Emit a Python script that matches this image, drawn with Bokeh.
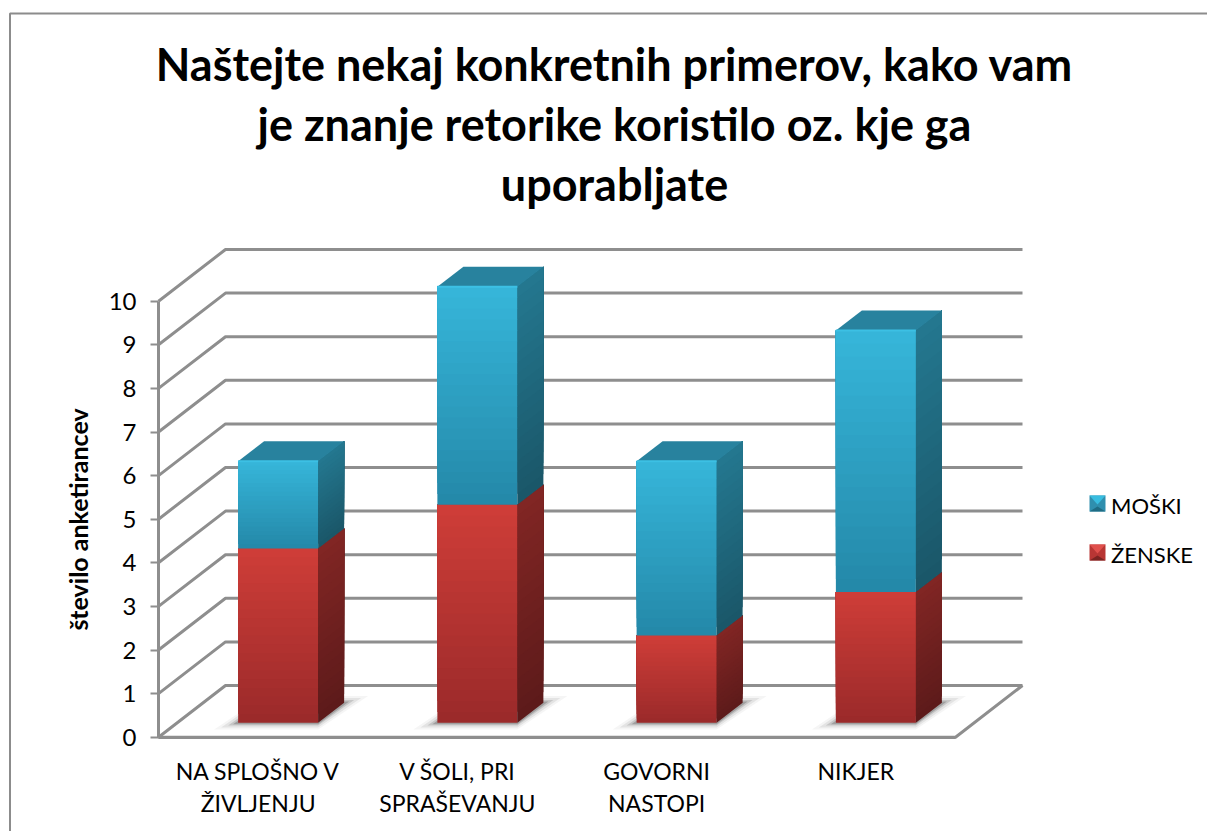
from bokeh.plotting import figure
from bokeh.embed import file_html
from bokeh.resources import INLINE
from bokeh.core.properties import value
from bokeh.models import LinearAxis, FixedTicker, Legend, LegendItem

categories = ["NA SPLOŠNO V\nŽIVLJENJU", "V ŠOLI, PRI\nSPRAŠEVANJU", "GOVORNI\nNASTOPI", "NIKJER"]
zenske = [4, 5, 2, 3]
moski = [2, 5, 4, 6]
y_ticks = list(range(0, 11))
title_text = "Naštejte nekaj konkretnih primerov, kako vam\nje znanje retorike koristilo oz. kje ga\nuporabljate"
y_label = "število anketirancev"

FONT = "Lato"
W, H = 1207, 831
# page-pixel scale of the plot area
PX, PY = 199.25, 43.6
X0, Y0 = 158.0, 736.7


def sx(px):
    return (px - X0) / PX


def sy(py):
    return (Y0 - py) / PY


p = figure(width=W, height=H, output_backend="svg", toolbar_location=None,
           x_range=(sx(0), sx(W)), y_range=(sy(H), sy(0)),
           x_axis_type=None, y_axis_type=None, min_border=0,
           background_fill_color="white", border_fill_color="white", outline_line_color=None)
p.grid.visible = False

GRID = "#8e8e8e"
# chart area frame
p.line([sx(9.5), sx(9.5), sx(W)], [sy(H), sy(13), sy(13)], line_color="#8c8c8c", line_width=2)

# walls and floor
dx, dy = 67 / PX, 51.7 / PY
n = len(categories)
xs, ys = [], []
for v in y_ticks:
    xs.append([0, dx, n + dx])
    ys.append([v, v + dy, v + dy])
p.multi_line(xs, ys, line_color=GRID, line_width=3)
p.line([n + dx, n, 0], [dy, 0, 0], line_color=GRID, line_width=3)

# bars
bar_w = 80 / PX
bar_off = 20 / PX
base = (Y0 - 722.3) / PY
side_x, side_y = 26 / PX, 20 / PY
SL = 20


def lerp(a, b, t):
    return "#%02x%02x%02x" % tuple(round(a[i] + (b[i] - a[i]) * t) for i in range(3))


RED_F = ((0x9a, 0x2a, 0x2a), (0xcf, 0x3d, 0x38))
RED_S = ((0x5c, 0x1a, 0x1a), (0x82, 0x26, 0x24))
BLU_F = ((0x24, 0x88, 0xa8), (0x36, 0xb6, 0xda))
BLU_S = ((0x1a, 0x56, 0x68), (0x24, 0x78, 0x90))
TOP = "#28829e"


def segment(x0, x1, v0, v1, front, side):
    # each band reaches the segment top, so later bands cover earlier ones without seams
    for k in range(SL):
        a = v0 + (v1 - v0) * k / SL
        t = (k + .5) / SL
        p.quad(left=[x0], right=[x1], bottom=[base + a], top=[base + v1],
               fill_color=lerp(front[0], front[1], t), line_color=None)
        p.patch([x1, x1 + side_x, x1 + side_x, x1],
                [base + a, base + a + side_y, base + v1 + side_y, base + v1],
                fill_color=lerp(side[0], side[1], t), line_color=None)


for i in range(n):
    c = i + .5 + bar_off
    x0, x1 = c - bar_w / 2, c + bar_w / 2
    # soft floor shadow
    for e, al in ((24, .05), (17, .09), (10, .16), (5, .26)):
        ex, ey = e / PX, e * .28 / PY
        p.patch([x0 - ex, x1, x1 + side_x + ex, x0 + side_x],
                [base - ey, base - ey, base + side_y + ey, base + side_y + ey],
                fill_color="#333333", fill_alpha=al, line_color=None)
    segment(x0, x1, 0, zenske[i], RED_F, RED_S)
    segment(x0, x1, zenske[i], zenske[i] + moski[i], BLU_F, BLU_S)
    t = zenske[i] + moski[i]
    p.patch([x0, x1, x1 + side_x, x0 + side_x],
            [base + t, base + t, base + t + side_y, base + t + side_y],
            fill_color=TOP, line_color=None)
    p.line([x0, x1], [base + t, base + t], line_color="#3cc0e4", line_width=2)

# axes
yax = LinearAxis(fixed_location=0, ticker=FixedTicker(ticks=y_ticks), bounds=(0, 10),
                 axis_label=y_label, axis_label_text_font=FONT, axis_label_text_font_size="25px",
                 axis_label_text_font_style="bold", axis_label_text_color="black",
                 axis_label_standoff=13,
                 major_label_text_font=FONT, major_label_text_font_size="24px",
                 major_label_text_color="black", major_label_standoff=14,
                 axis_line_color=GRID, axis_line_width=3,
                 major_tick_line_color=GRID, major_tick_line_width=2,
                 major_tick_out=8, major_tick_in=0, minor_tick_line_color=None)
p.add_layout(yax, "left")

xax = LinearAxis(fixed_location=0, ticker=FixedTicker(ticks=[i + .5 for i in range(n)]), bounds=(0, n),
                 major_label_overrides={i + .5: c for i, c in enumerate(categories)},
                 major_label_text_font=FONT, major_label_text_font_size="23px",
                 major_label_text_color="black", major_label_standoff=14,
                 major_label_text_line_height=1.135,
                 axis_line_color=GRID, axis_line_width=3,
                 major_tick_line_color=None, minor_tick_line_color=None)
p.add_layout(xax, "below")

# title
p.text([sx(614)], [sy(36)], text=[title_text], text_font=value(FONT), text_font_style="bold",
       text_font_size="45px", text_color="black", text_align="center", text_baseline="top",
       text_line_height=1.12)

# legend
lx0, lx1 = 1089, 1105
r_m = p.quad(left=[sx(lx0)], right=[sx(lx1)], bottom=[sy(511)], top=[sy(495)], fill_color="#2a88a6",
             fill_alpha=0, line_alpha=0)
r_z = p.quad(left=[sx(lx0)], right=[sx(lx1)], bottom=[sy(560)], top=[sy(544)], fill_color="#b03432",
             fill_alpha=0, line_alpha=0)
for yc, face, topc, dark in ((503, "#2f8fae", "#38bde0", "#1f6c84"), (552, "#b83634", "#e0504c", "#7c2422")):
    p.quad(left=[sx(lx0)], right=[sx(lx1)], bottom=[sy(yc + 8)], top=[sy(yc - 8)], fill_color=face, line_color=None)
    p.patch([sx(lx0), sx(lx1), sx((lx0 + lx1) / 2)], [sy(yc - 8), sy(yc - 8), sy(yc + 1)], fill_color=topc, line_color=None)
    p.patch([sx(lx0), sx(lx1), sx((lx0 + lx1) / 2)], [sy(yc + 8), sy(yc + 8), sy(yc + 3)], fill_color=dark, line_color=None)

legend = Legend(items=[LegendItem(label="MOŠKI", renderers=[r_m]), LegendItem(label="ŽENSKE", renderers=[r_z])],
                location=(1089, H - 568), orientation="vertical", border_line_color=None,
                background_fill_alpha=0, glyph_width=16, glyph_height=16, spacing=22, padding=6, margin=0,
                label_text_font=FONT, label_text_font_size="22px", label_text_color="black",
                label_standoff=6)
p.add_layout(legend, "center")

open("out.html", "w").write(file_html(p, INLINE))
